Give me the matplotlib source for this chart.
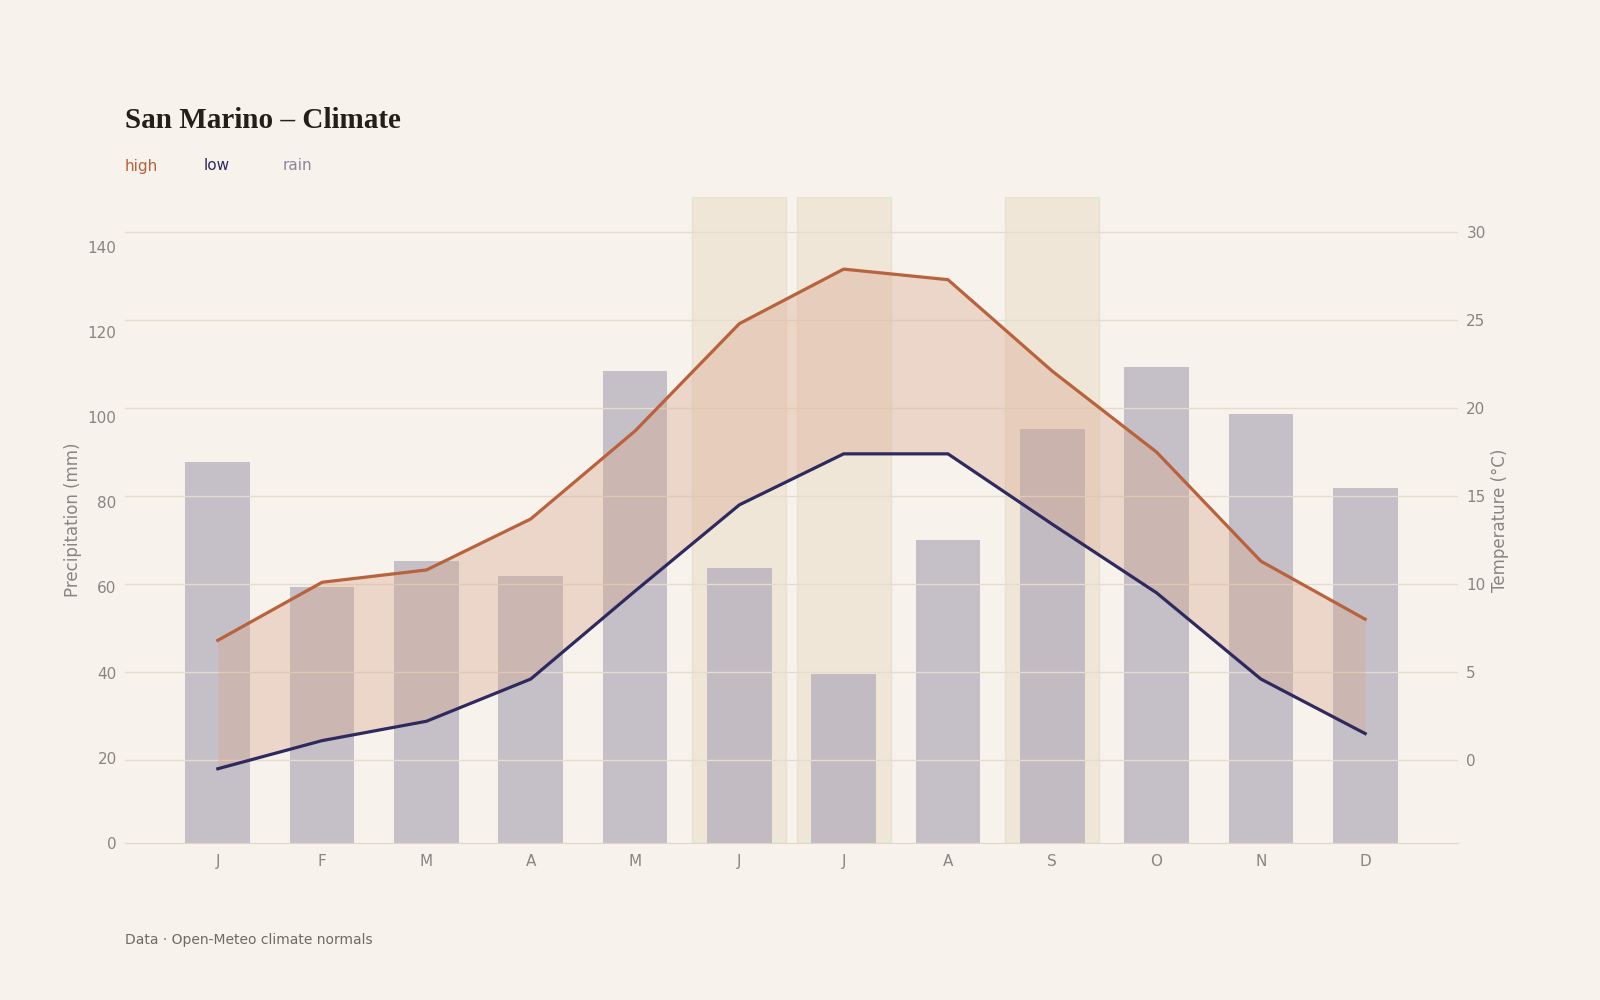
import numpy as np
import matplotlib
matplotlib.use("Agg")
import matplotlib.pyplot as plt

# Data
months = ["J", "F", "M", "A", "M", "J", "J", "A", "S", "O", "N", "D"]
rain = [89.5, 60.1, 66.2, 62.7, 110.9, 64.6, 39.7, 71.2, 97.3, 111.8, 100.8, 83.4]
high = [6.8, 10.1, 10.8, 13.7, 18.7, 24.8, 27.9, 27.3, 22.1, 17.5, 11.3, 8.0]
low = [-0.5, 1.1, 2.2, 4.6, 9.6, 14.5, 17.4, 17.4, 13.4, 9.5, 4.6, 1.5]
highlight = [5, 6, 8]

BG = "#f7f2eb"
C_HIGH = "#b8623e"
C_LOW = "#2e2a5e"
C_RAIN = "#8a87a0"
C_TICK = "#8a8580"

fig = plt.figure(figsize=(16, 10), dpi=100, facecolor=BG)
ax = fig.add_axes([125 / 1600, 157 / 1000, 1333 / 1600, 646 / 1000])
ax.set_facecolor(BG)
ax2 = ax.twinx()

x = np.arange(len(months))

for i in highlight:
    ax.axvspan(i - 0.45, i + 0.45, color="#e6d9c2", alpha=0.45, ec="#e0d2b8", lw=1, zorder=0)

ax.bar(x, rain, width=0.62, color="#aaa5b5", alpha=0.65, zorder=1)
ax.set_ylim(0, 151.7)
ax.set_xlim(-0.89, 11.89)
ax.set_yticks(range(0, 141, 20))
ax.set_ylabel("Precipitation (mm)", color=C_TICK, fontsize=12)

ax2.fill_between(x, low, high, color="#d9a48a", alpha=0.35, lw=0, zorder=2)
ax2.plot(x, high, color=C_HIGH, lw=2.3, zorder=3)
ax2.plot(x, low, color=C_LOW, lw=2.3, zorder=3)
ax2.set_ylim(-4.72, 32)
ax2.set_yticks(range(0, 31, 5))
ax2.set_ylabel("Temperature (°C)", color=C_TICK, fontsize=12)
ax2.grid(axis="y", color="#e6dccd", lw=1)
ax2.set_axisbelow(True)

ax.set_xticks(x)
ax.set_xticklabels(months)
for a in (ax, ax2):
    for s in a.spines.values():
        s.set_visible(False)
    a.tick_params(length=0, colors=C_TICK, labelsize=11)
ax.spines["bottom"].set_visible(True)
ax.spines["bottom"].set_color("#e0d6c6")
ax.tick_params(axis="y", pad=6)
ax2.tick_params(axis="y", pad=6)
ax.tick_params(axis="x", pad=8)

fig.text(125 / 1600, 1 - 120 / 1000, "San Marino – Climate", fontsize=21, fontweight="bold",
         family="Liberation Serif", color="#222018", va="center")
for lab, col, px in [("high", C_HIGH, 125), ("low", C_LOW, 204), ("rain", C_RAIN, 283)]:
    fig.text(px / 1600, 1 - 166 / 1000, lab, color=col, fontsize=11, va="center")
fig.text(125 / 1600, 1 - 940 / 1000, "Data · Open-Meteo climate normals", color="#6e6a64",
         fontsize=10, va="center")

fig.savefig("out.png", facecolor=BG)
